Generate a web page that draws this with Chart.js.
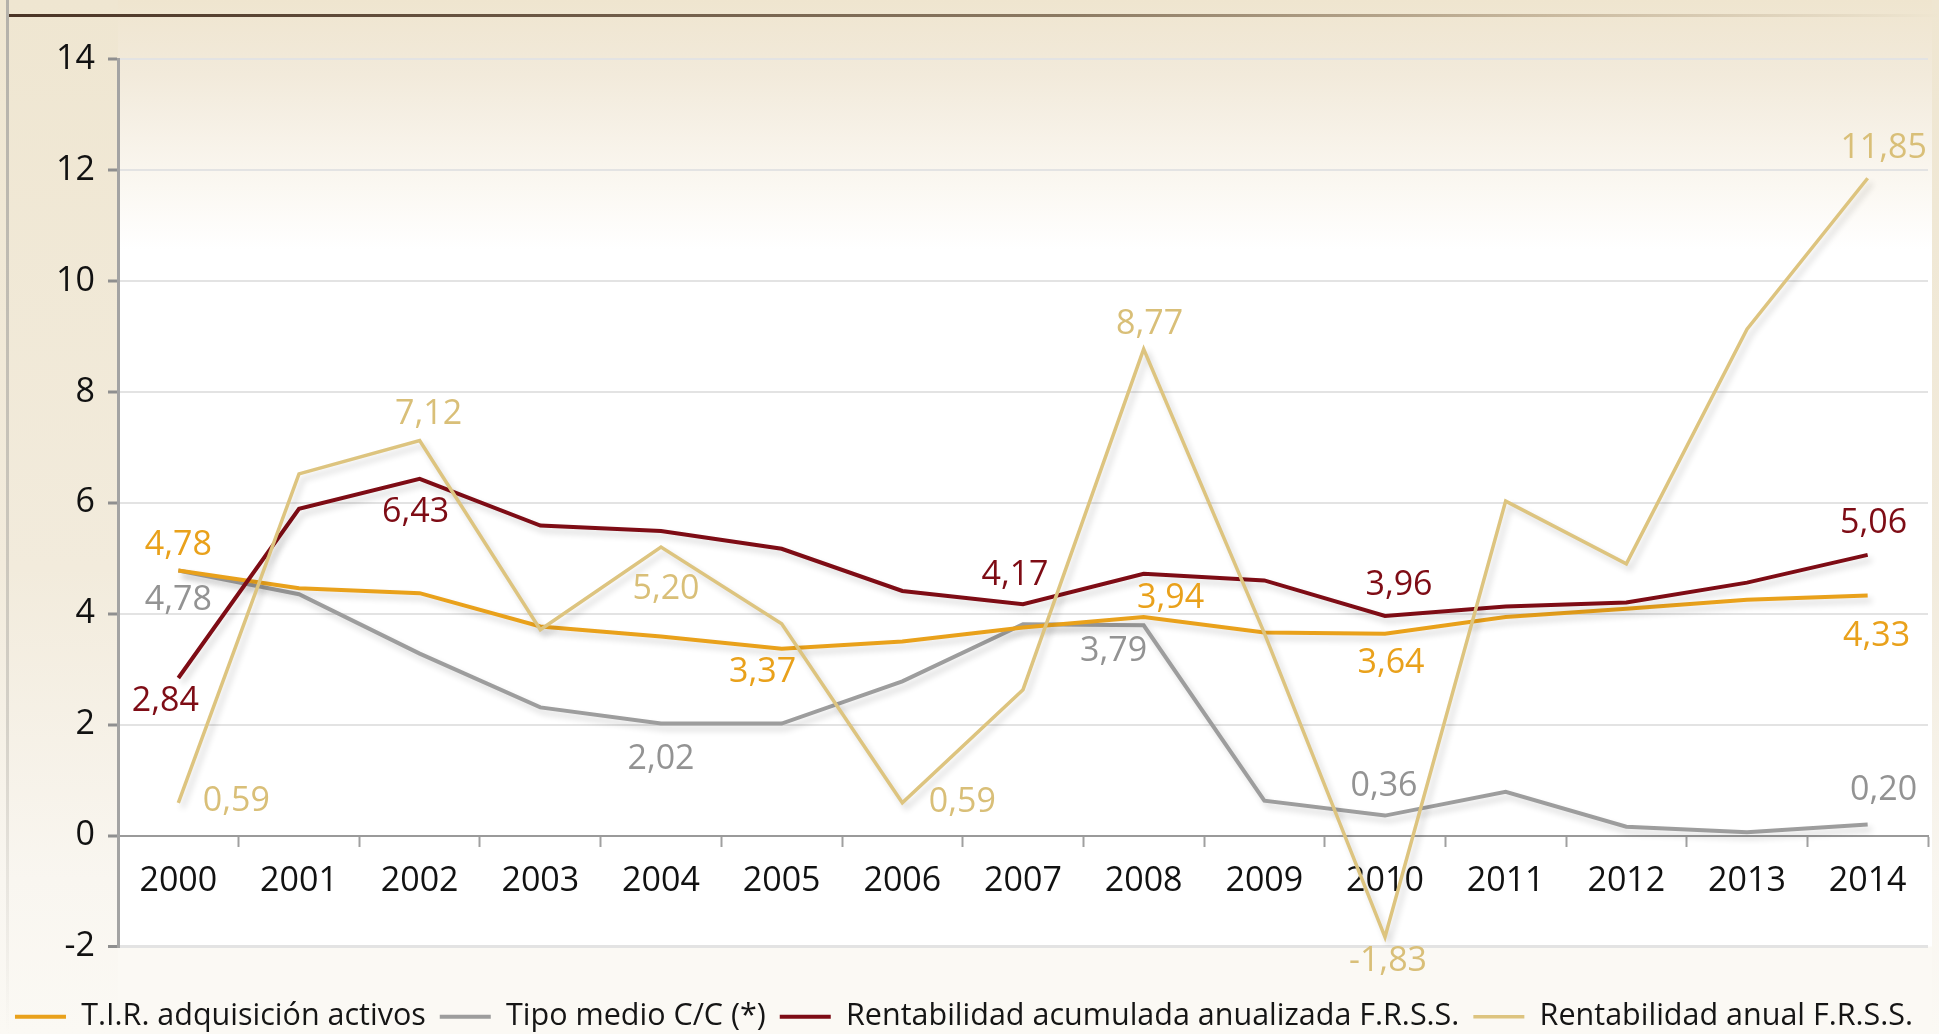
<!DOCTYPE html>
<html>
<head>
<meta charset="utf-8">
<script src="https://cdn.jsdelivr.net/npm/chart.js@4/dist/chart.umd.min.js"></script>
<style>
    html, body { margin: 0; padding: 0; background: #fbf9f4; }
    canvas { display: block; }
</style>
</head>
<body>
<canvas id="chart" width="1939" height="1034"></canvas>
<script>
const years = ['2000', '2001', '2002', '2003', '2004', '2005', '2006', '2007',
               '2008', '2009', '2010', '2011', '2012', '2013', '2014'];

const tirAdquisicion = [4.78, 4.46, 4.37, 3.77, 3.59, 3.37, 3.50, 3.75, 3.94, 3.66, 3.64, 3.94, 4.09, 4.25, 4.33];
const tipoMedio      = [4.78, 4.35, 3.28, 2.31, 2.02, 2.02, 2.78, 3.81, 3.79, 0.63, 0.36, 0.79, 0.16, 0.06, 0.20];
const rentAcumulada  = [2.84, 5.89, 6.43, 5.59, 5.49, 5.17, 4.41, 4.17, 4.72, 4.60, 3.96, 4.13, 4.20, 4.56, 5.06];
const rentAnual      = [0.59, 6.52, 7.12, 3.71, 5.20, 3.82, 0.59, 2.63, 8.77, 3.65, -1.83, 6.03, 4.90, 9.13, 11.85];

const seriesNames = [
    'T.I.R. adquisición activos',
    'Tipo medio C/C (*)',
    'Rentabilidad acumulada anualizada F.R.S.S.',
    'Rentabilidad anual F.R.S.S.'
];

const yMin = -2;
const yMax = 14;
const yStep = 2;

// indices of the points that carry a value label (per series)
const labelledPoints = [
    [0, 5, 8, 10, 14],
    [0, 4, 8, 10, 14],
    [0, 2, 7, 10, 14],
    [0, 2, 4, 6, 8, 10, 14]
];

// where each of those labels sits, relative to its point (px)
const labelOffsets = [
    [[0, -25], [-19, 24], [27, -19], [6, 30], [9, 41]],
    [[0, 30], [0, 36], [-30, 26], [-1, -29], [16, -34]],
    [[-13, 23], [-4, 33], [-8, -29], [14, -31], [6, -32]],
    [[58, -2], [9, -26], [5, 42], [60, -1], [6, -25], [3, 24], [16, -30]]
];

const lineColors  = ['#e9a11b', '#9d9d9d', '#7e0c15', '#ddc47f'];
const labelColors = ['#e9a11b', '#939393', '#7e0c15', '#d9bf78'];
const lineWidths  = [4, 4, 4, 3.5];
const drawOrder   = [2, 3, 1, 0];

const fontFamily = "'Open Sans', 'Noto Sans', sans-serif";

/**
 * Paints the beige page background, the top rule and the white plot area.
 */
const backgroundPlugin = {
    id: 'background',
    beforeDraw: function (chart) {
        let ctx = chart.ctx;
        let w = chart.width;
        let h = chart.height;
        let area = chart.chartArea;

        ctx.save();
        ctx.fillStyle = '#fbf9f4';
        ctx.fillRect(0, 0, w, h);

        let side = ctx.createLinearGradient(0, 0, 0, h);
        side.addColorStop(0, '#efe6d1');
        side.addColorStop(0.55, '#f2ebdc');
        side.addColorStop(0.85, '#f9f6f0');
        side.addColorStop(1, '#fbf9f4');
        ctx.fillStyle = side;
        ctx.fillRect(0, 0, area.left, h);
        ctx.fillRect(area.right + 4, 0, w - area.right - 4, h);

        let top = ctx.createLinearGradient(0, 0, 0, 250);
        top.addColorStop(0, '#efe5cf');
        top.addColorStop(0.3, '#f2eadb');
        top.addColorStop(0.75, '#fbf8f2');
        top.addColorStop(1, '#ffffff');
        ctx.fillStyle = top;
        ctx.fillRect(area.left, 0, area.right + 4 - area.left, 250);
        ctx.fillStyle = '#ffffff';
        ctx.fillRect(area.left, 250, area.right + 4 - area.left, area.bottom - 250);

        let rule = ctx.createLinearGradient(9, 0, w, 0);
        rule.addColorStop(0, '#4a3425');
        rule.addColorStop(0.55, '#8c7a63');
        rule.addColorStop(0.8, '#c9b99f');
        rule.addColorStop(1, '#efe6d1');
        ctx.strokeStyle = rule;
        ctx.lineWidth = 3;
        ctx.beginPath();
        ctx.moveTo(9, 15.5);
        ctx.lineTo(w, 15.5);
        ctx.stroke();

        let edge = ctx.createLinearGradient(0, 0, 0, h);
        edge.addColorStop(0, '#b4b1aa');
        edge.addColorStop(0.7, 'rgba(180,177,170,0.5)');
        edge.addColorStop(1, 'rgba(180,177,170,0)');
        ctx.strokeStyle = edge;
        ctx.lineWidth = 3;
        ctx.beginPath();
        ctx.moveTo(7.5, 0);
        ctx.lineTo(7.5, h);
        ctx.stroke();
        ctx.restore();
    }
};

/**
 * Soft drop shadow under every line.
 */
const shadowPlugin = {
    id: 'lineShadow',
    beforeDatasetDraw: function (chart) {
        let ctx = chart.ctx;
        ctx.save();
        ctx.shadowColor = 'rgba(0, 0, 0, 0.16)';
        ctx.shadowBlur = 6;
        ctx.shadowOffsetX = 4;
        ctx.shadowOffsetY = 5;
    },
    afterDatasetDraw: function (chart) {
        chart.ctx.restore();
    }
};

/**
 * Writes the value next to the selected points, with a decimal comma.
 */
const valueLabelPlugin = {
    id: 'valueLabels',
    afterDatasetsDraw: function (chart) {
        let ctx = chart.ctx;
        ctx.save();
        ctx.font = '34px ' + fontFamily;
        ctx.textAlign = 'center';
        ctx.textBaseline = 'middle';

        chart.data.datasets.forEach(function (dataset, d) {
            let meta = chart.getDatasetMeta(d);
            ctx.fillStyle = labelColors[d];
            labelledPoints[d].forEach(function (index, k) {
                let point = meta.data[index];
                let text = dataset.data[index].toFixed(2).replace('.', ',');
                ctx.fillText(text, point.x + labelOffsets[d][k][0], point.y + labelOffsets[d][k][1]);
            });
        });
        ctx.restore();
    }
};

let series = [tirAdquisicion, tipoMedio, rentAcumulada, rentAnual];

new Chart(document.getElementById('chart'), {
    type: 'line',
    data: {
        labels: years,
        datasets: series.map(function (values, i) {
            return {
                label: seriesNames[i],
                data: values,
                borderColor: lineColors[i],
                backgroundColor: lineColors[i],
                borderWidth: lineWidths[i],
                pointRadius: 0,
                pointHoverRadius: 0,
                tension: 0,
                order: drawOrder[i]
            };
        })
    },
    options: {
        responsive: false,
        animation: false,
        layout: {
            padding: { top: 59, left: 0, right: 11, bottom: -8 }
        },
        plugins: {
            tooltip: { enabled: false },
            legend: {
                position: 'bottom',
                title: {
                    display: true,
                    text: '',
                    padding: 0,
                    font: { size: 41, lineHeight: 1 }
                },
                labels: {
                    usePointStyle: true,
                    pointStyle: 'line',
                    pointStyleWidth: 51,
                    padding: 14,
                    color: '#151515',
                    font: { family: fontFamily, size: 30.5 },
                    sort: function (a, b) {
                        return a.datasetIndex - b.datasetIndex;
                    }
                }
            }
        },
        scales: {
            x: {
                position: { y: 0 },
                offset: true,
                border: { color: '#9a9a9a', width: 2 },
                grid: {
                    offset: true,
                    drawOnChartArea: false,
                    tickLength: 10,
                    tickColor: '#a0a0a0',
                    tickWidth: 2
                },
                ticks: {
                    color: '#111111',
                    padding: 15,
                    font: { family: fontFamily, size: 34 }
                }
            },
            y: {
                min: yMin,
                max: yMax,
                afterFit: function (scale) {
                    scale.width = 118;
                },
                border: { color: '#a3a3a3', width: 3 },
                grid: {
                    color: '#e3e3e3',
                    lineWidth: function (context) {
                        return context.tick && context.tick.value === yMin ? 3 : 2;
                    },
                    tickLength: 10,
                    tickColor: '#8f8f8f',
                    tickWidth: 3
                },
                ticks: {
                    stepSize: yStep,
                    color: '#111111',
                    padding: 13,
                    font: { family: fontFamily, size: 34 }
                }
            }
        }
    },
    plugins: [backgroundPlugin, shadowPlugin, valueLabelPlugin]
});
</script>
</body>
</html>
